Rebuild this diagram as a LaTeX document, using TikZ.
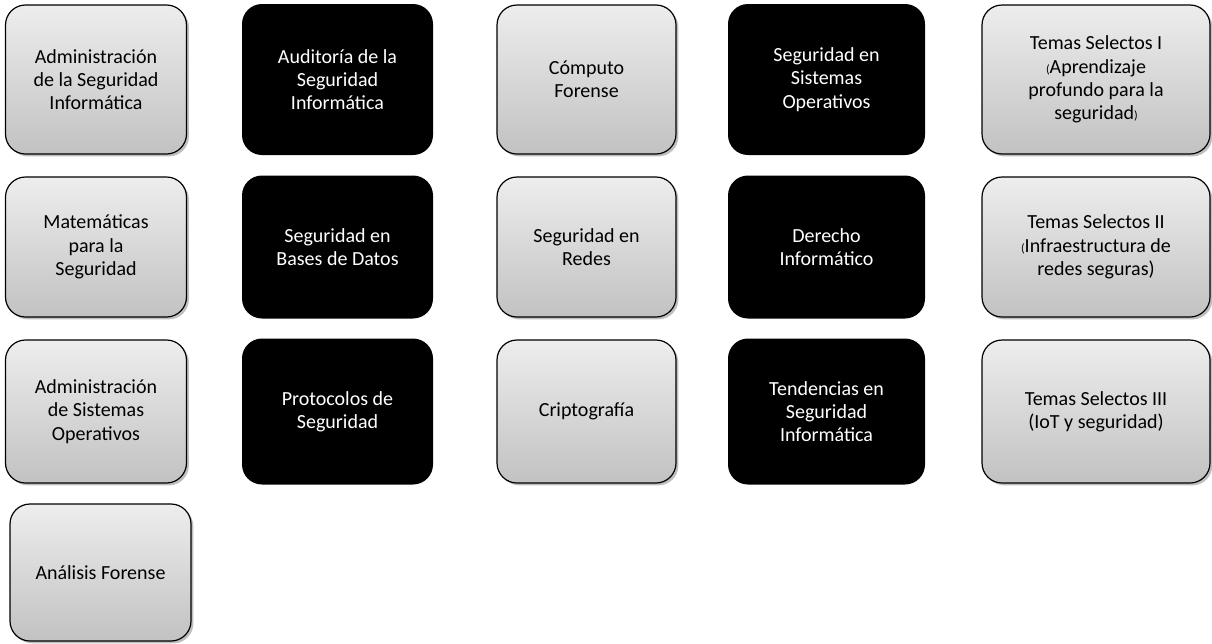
\documentclass[tikz,border=0pt]{standalone}
\usepackage{fontspec}
\setmainfont{Carlito}
\usetikzlibrary{shadows}

\begin{document}
\begin{tikzpicture}[x=0.75pt,y=-0.75pt,
    caja/.style={rounded corners=15pt, align=center, inner sep=0pt,
      font=\fontsize{15}{17.5}\selectfont},
    gris/.style={caja, draw=black, line width=0.9pt, top color=black!7, bottom color=black!24,
      drop shadow={shadow xshift=1.8pt, shadow yshift=-1.8pt, opacity=0.25, fill=black}},
    negro/.style={caja, fill=black, text=white},
    tam/.style 2 args={minimum width=#1*0.75pt, minimum height=#2*0.75pt}]
  \useasboundingbox (0,0) rectangle (1212,643);
  % fila 1
  \node[gris, tam={181}{149}] (admseg) at (96,79.5) {Administración\\de la Seguridad\\Informática};
  \node[negro, tam={191}{151}] (auditoria) at (337.5,79.5) {Auditoría de la\\Seguridad\\Informática};
  \node[gris, tam={179}{149}] (computo) at (586.5,79.5) {Cómputo\\Forense};
  \node[negro, tam={197}{151}] (segso) at (826.5,79.5) {Seguridad en\\Sistemas\\Operativos};
  \node[gris, tam={228}{149}] (temasI) at (1096,79.5) {Temas Selectos I\\{\small(}Aprendizaje\\profundo para la\\seguridad{\small)}};
  % fila 2
  \node[gris, tam={181}{140}] (mates) at (96,247) {Matemáticas\\para la\\Seguridad};
  \node[negro, tam={191}{143}] (segbd) at (337.5,247) {Seguridad en\\Bases de Datos};
  \node[gris, tam={179}{140}] (segredes) at (586.5,247) {Seguridad en\\Redes};
  \node[negro, tam={197}{143}] (derecho) at (826.5,247) {Derecho\\Informático};
  \node[gris, tam={228}{140}] (temasII) at (1096,247) {Temas Selectos II\\{\small(}Infraestructura de\\redes seguras)};
  % fila 3
  \node[gris, tam={181}{143}] (admso) at (96,411.5) {Administración\\de Sistemas\\Operativos};
  \node[negro, tam={191}{146}] (protocolos) at (337.5,411.5) {Protocolos de\\Seguridad};
  \node[gris, tam={179}{143}] (cripto) at (586.5,411.5) {Criptografía};
  \node[negro, tam={197}{146}] (tendencias) at (826.5,411.5) {Tendencias en\\Seguridad\\Informática};
  \node[gris, tam={228}{143}] (temasIII) at (1096,411.5) {Temas Selectos III\\(IoT y seguridad)};
  % fila 4
  \node[gris, tam={181}{137}] (analisis) at (100.5,572.5) {Análisis Forense};
\end{tikzpicture}
\end{document}
